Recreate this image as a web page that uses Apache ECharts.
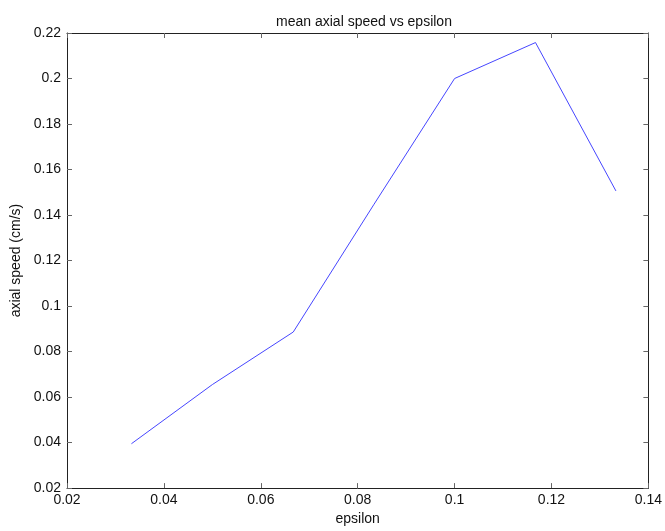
<!DOCTYPE html>
<html>
<head>
<meta charset="utf-8">
<script src="https://cdn.jsdelivr.net/npm/echarts@6/dist/echarts.min.js"></script>
<style>
html,body{margin:0;padding:0;background:#fff;}
#chart{width:665px;height:531px;}
</style>
</head>
<body>
<div id="chart"></div>
<script>
const epsilon = [0.0333, 0.05, 0.0667, 0.0833, 0.1, 0.1167, 0.1333];
const axialSpeed = [0.0395, 0.0655, 0.0886, 0.1445, 0.2, 0.2158, 0.1506];
const titleText = 'mean axial speed vs epsilon';
const xName = 'epsilon';
const yName = 'axial speed (cm/s)';

const font = 'Liberation Sans, Arial, Helvetica, sans-serif';
const fmt = v => String(+v.toFixed(2));
const lineStyle = {color: '#222', width: 1};
const tickStyle = {show: true, inside: true, length: 5, lineStyle: {color: '#666', width: 1}};

const chart = echarts.init(document.getElementById('chart'), null, {renderer: 'canvas'});
chart.setOption({
  backgroundColor: '#fff',
  animation: false,
  title: {
    text: titleText, left: 359, top: 10, textAlign: 'center',
    textStyle: {fontFamily: font, fontSize: 14, fontWeight: 'normal', color: '#111'}
  },
  grid: {left: 67, right: 13, top: 33, bottom: 37, containLabel: false},
  xAxis: [{
    type: 'value', position: 'bottom', min: 0.02, max: 0.14, interval: 0.02,
    name: xName, nameLocation: 'middle', nameGap: 20,
    nameTextStyle: {fontFamily: font, fontSize: 14, color: '#111'},
    axisLine: {show: true, onZero: false, lineStyle: lineStyle},
    axisTick: tickStyle,
    axisLabel: {formatter: fmt, fontFamily: font, fontSize: 14, color: '#111', margin: 5},
    splitLine: {show: false}
  }, {
    type: 'value', position: 'top', min: 0.02, max: 0.14, interval: 0.02,
    axisLine: {show: true, onZero: false, lineStyle: lineStyle},
    axisTick: tickStyle, axisLabel: {show: false}, splitLine: {show: false}
  }],
  yAxis: [{
    type: 'value', position: 'left', min: 0.02, max: 0.22, interval: 0.02,
    name: yName, nameLocation: 'middle', nameGap: 42,
    nameTextStyle: {fontFamily: font, fontSize: 14, color: '#111'},
    axisLine: {show: true, onZero: false, lineStyle: lineStyle},
    axisTick: tickStyle,
    axisLabel: {formatter: fmt, fontFamily: font, fontSize: 14, color: '#111', margin: 6},
    splitLine: {show: false}
  }, {
    type: 'value', position: 'right', min: 0.02, max: 0.22, interval: 0.02,
    axisLine: {show: true, onZero: false, lineStyle: lineStyle},
    axisTick: tickStyle, axisLabel: {show: false}, splitLine: {show: false}
  }],
  series: [{
    type: 'line',
    data: epsilon.map((x, i) => [x, axialSpeed[i]]),
    showSymbol: false,
    lineStyle: {color: '#4646ff', width: 1},
    itemStyle: {color: '#4646ff'}
  }]
});
</script>
</body>
</html>
